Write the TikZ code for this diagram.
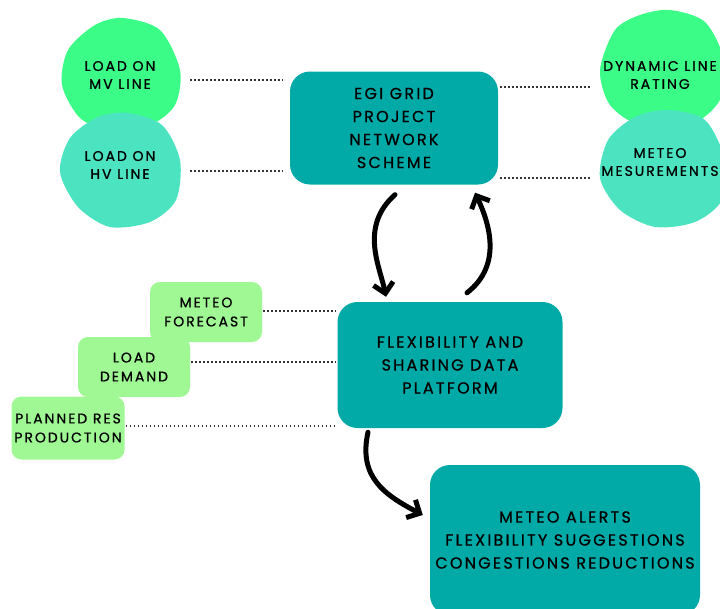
\documentclass[tikz,border=0pt]{standalone}
\usepackage{fontspec}
\setmainfont{Poppins}[LetterSpace=14, FakeBold=0.8]
\usetikzlibrary{arrows.meta,calc}

\definecolor{mvgreen}{RGB}{60,252,136}
\definecolor{hvteal}{RGB}{76,228,192}
\definecolor{hubteal}{RGB}{1,170,167}
\definecolor{leafgreen}{RGB}{160,248,148}

\tikzset{
  blobtext/.style={minimum width=120pt, minimum height=110pt, align=center,
    font=\fontsize{14}{18}\selectfont},
  hub/.style={fill=hubteal, align=center, inner sep=0pt, rounded corners=20pt,
    font=\fontsize{16}{23}\selectfont},
  leaf/.style={fill=leafgreen, align=center, inner sep=0pt, rounded corners=10pt,
    minimum width=112pt, minimum height=60pt,
    font=\fontsize{14}{19}\selectfont},
  link/.style={line width=1.8pt, dash pattern=on 1.6pt off 2.4pt, black!80},
  flow/.style={line width=5pt, line cap=round,
    -{Straight Barb[length=10pt,width=20pt]}}
}

\begin{document}
\begin{tikzpicture}[x=1pt, y=-1pt]
\useasboundingbox (0,0) rectangle (720,608);

% left blobs
\fill[mvgreen] plot[smooth cycle] coordinates {(123,18) (160,30) (180,70) (175,105)
  (150,125) (110,130) (80,118) (62,85) (68,50) (95,25)};
\fill[hvteal] plot[smooth cycle] coordinates {(128,113) (162,125) (180,160) (176,200)
  (150,222) (110,227) (78,207) (60,172) (70,138) (98,117)};
% right blobs
\fill[mvgreen] plot[smooth cycle] coordinates {(670,10) (705,22) (724,60) (720,100)
  (690,125) (640,125) (610,105) (600,70) (615,30) (640,15)};
\fill[hvteal] plot[smooth cycle] coordinates {(668,110) (705,120) (725,160) (722,200)
  (695,222) (655,227) (620,210) (600,178) (608,140) (635,117)};

\node[blobtext] (mv) at (120,75) {LOAD ON\\MV LINE};
\node[blobtext] (hv) at (120,165) {LOAD ON\\HV LINE};
\node[blobtext] (dlr) at (660,75) {DYNAMIC LINE\\RATING};
\node[blobtext] (mes) at (660,162) {METEO\\MESUREMENTS};

% main boxes
\node[hub, minimum width=208pt, minimum height=113pt] (egi) at (394,128)
  {EGI GRID\\PROJECT\\NETWORK\\SCHEME};
\node[hub, minimum width=225pt, minimum height=126pt] (flex) at (450,365)
  {FLEXIBILITY AND\\SHARING DATA\\PLATFORM};
\node[hub, minimum width=270pt, minimum height=150pt] (out) at (565,540)
  {METEO ALERTS\\FLEXIBILITY SUGGESTIONS\\CONGESTIONS REDUCTIONS};

% inputs of the platform
\node[leaf] (fcast) at (206,312) {METEO\\FORECAST};
\node[leaf] (load) at (134,367) {LOAD\\DEMAND};
\node[leaf, minimum width=113pt, minimum height=63pt] (plan) at (68,428)
  {PLANNED RES\\PRODUCTION};

% dotted links
\draw[link] ($(mv.east)+(10,5)$) -- ($(mv.east -| egi.west)+(-7,5)$);
\draw[link] ($(hv.east)+(10,6)$) -- ($(hv.east -| egi.west)+(-7,6)$);
\draw[link] ($(egi.east |- dlr.west)+(2,12)$) -- ($(dlr.west)+(-8,12)$);
\draw[link] ($(egi.east |- mes.west)+(2,16)$) -- ($(mes.west)+(-8,16)$);
\draw[link] ($(fcast.east)+(1,-1)$) -- ($(fcast.east -| flex.west)+(-1,-1)$);
\draw[link] ($(load.east)+(1,-5)$) -- ($(load.east -| flex.west)+(-1,-5)$);
\draw[link] ($(plan.east)+(1,-2)$) -- ($(plan.east -| flex.west)+(-1,-2)$);

% arrows
\draw[flow] ($(egi.south)+(1,10)$) .. controls +(-36,32) and +(-6,-30) .. ($(flex.north)+(-64,-5)$);
\draw[flow] ($(flex.north)+(17,-9)$) .. controls +(36,-28) and +(14,30) .. ($(egi.south)+(81,8)$);
\draw[flow] ($(flex.south)+(-82,4)$) .. controls +(-10,45) and +(-38,-20) .. ($(out.west)+(-7,-25)$);
\end{tikzpicture}
\end{document}
